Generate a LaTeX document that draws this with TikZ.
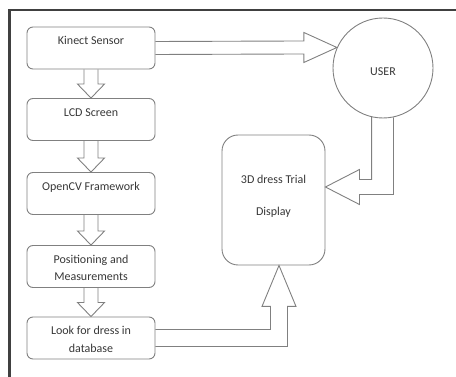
\documentclass[tikz,border=0pt]{standalone}
\usepackage{fontspec}
\setmainfont{Carlito}
\usepackage{tikz}
\usetikzlibrary{calc,shapes}
\definecolor{linegray}{RGB}{128,128,128}
\definecolor{framegray}{RGB}{64,64,64}
\definecolor{textgray}{RGB}{55,55,55}

\begin{document}
\begin{tikzpicture}[x=1pt,y=-1pt,line join=miter,
  box/.style={draw=linegray,line width=0.9pt,rounded corners=6pt,minimum width=128pt,
    align=center,inner xsep=2pt,inner ysep=0pt,text height=18pt,text depth=24pt,
    text=textgray,font=\fontsize{12}{17.5}\selectfont},
  twoline/.style={text height=35.5pt,text depth=6.5pt},
  blk/.style={draw=linegray,line width=0.9pt}]
%%
\useasboundingbox (0,0) rectangle (456,377);
\draw [framegray,line width=2.5pt] (456,10) -- (9.5,10) -- (9.5,377);
%%
\node (kinect) at (91,48) [box] {Kinect Sensor};
  \node (lcd) at (91,119.5) [box] {LCD Screen};
  \node (opencv) at (91,193.5) [box] {OpenCV Framework};
  \node (posit) at (91,266.5) [box,twoline] {Positioning and\\Measurements};
  \node (look) at (91,338) [box,twoline] {Look for dress in\\database};
  \node (user) at (383,68) [draw=linegray,line width=0.9pt,circle,minimum size=100pt,inner sep=0pt,
    text height=15pt,text=textgray,font=\fontsize{12}{14}\selectfont] {USER};
  \node (display) at (273.5,200) [box,minimum width=103pt,rounded corners=16pt,
    text height=80.5pt,text depth=49.5pt] {3D dress Trial\\[14pt]Display};
%%
\foreach \a/\b in {kinect/lcd,lcd/opencv,opencv/posit,posit/look}
  \draw [blk] ($(\a.south)+(-7,0)$) -- ($(\b.north)+(-7,-14)$) -- ($(\b.north)+(-13.5,-14)$)
    -- (\b.north) -- ($(\b.north)+(13.5,-14)$) -- ($(\b.north)+(7,-14)$) -- ($(\a.south)+(7,0)$);
%
\coordinate (kt) at (user.156);
  \draw [blk] ($(kinect.east)+(0,-6.5)$) -- ($(kt)+(-33,-6.5)$) -- ($(kt)+(-33,-15)$) -- (kt)
    -- ($(kt)+(-33,15)$) -- ($(kt)+(-33,6.5)$) -- ($(kinect.east)+(0,6.5)$);
%
\coordinate (dt) at ($(display.east)+(0,-13)$);
  \draw [blk] (user.257) |- ($(dt)+(34,-7.5)$) -- ($(dt)+(34,-17.5)$) -- (dt)
    -- ($(dt)+(34,17.5)$) -- ($(dt)+(34,7.5)$) -| (user.282);
%
\coordinate (lt) at ($(display.south)+(5.5,0)$);
  \draw [blk] ($(look.east)+(0,-8.5)$) -| ($(lt)+(-8.5,41)$) -- ($(lt)+(-17,41)$) -- (lt)
    -- ($(lt)+(17,41)$) -- ($(lt)+(8.5,41)$) |- ($(look.east)+(0,8.5)$);
%
\end{tikzpicture}
\end{document}
